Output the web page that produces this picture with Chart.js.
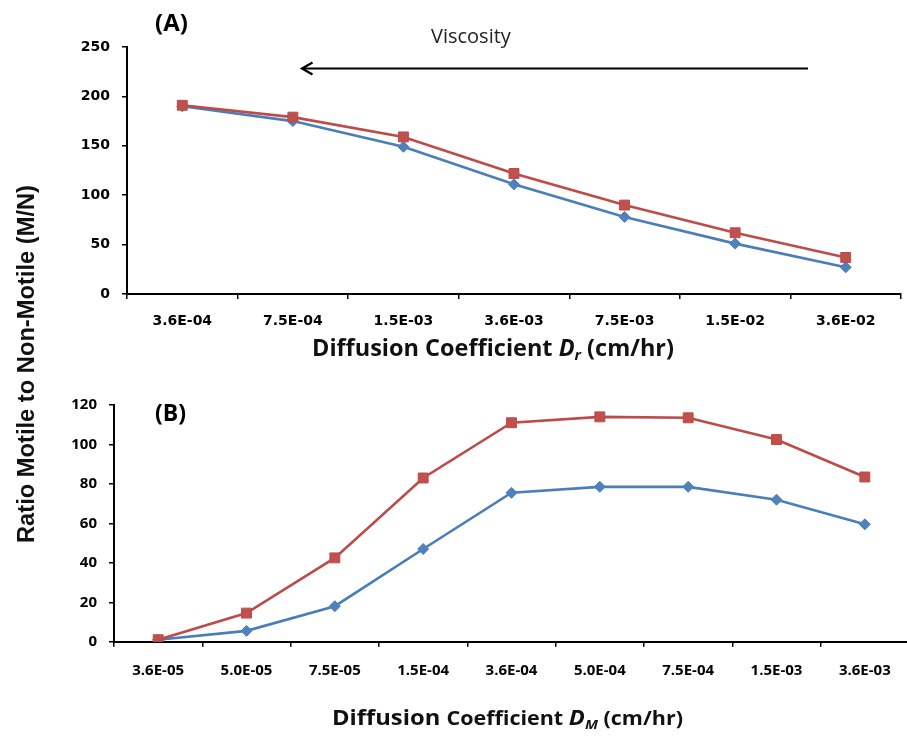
<!DOCTYPE html>
<html>
<head>
<meta charset="utf-8">
<script src="https://cdn.jsdelivr.net/npm/chart.js@4/dist/chart.umd.min.js"></script>
<style>
html,body{margin:0;padding:0;background:#fff;overflow:hidden;}
#wrap{position:relative;width:907px;height:736px;overflow:hidden;background:#fff;}
canvas{position:absolute;left:0;}
svg{position:absolute;left:0;top:0;}
</style>
</head>
<body>
<div id="wrap">
<canvas id="cA" width="909" height="345" style="top:0px"></canvas>
<canvas id="cB" width="917" height="320" style="top:380px"></canvas>
<svg width="907" height="736" xmlns="http://www.w3.org/2000/svg">
  <text x="155" y="31" font-family="Open Sans" font-weight="bold" font-size="24" fill="#000">(A)</text>
  <text x="155" y="421" font-family="Open Sans" font-weight="bold" font-size="23" fill="#000">(B)</text>
  <text x="431" y="43" font-family="Open Sans" font-size="20" fill="#222">Viscosity</text>
  <line x1="303" y1="68.5" x2="808" y2="68.5" stroke="#000" stroke-width="2.2"/>
  <polyline points="312.5,62.5 302,68.5 312.5,74.5" fill="none" stroke="#000" stroke-width="2.2"/>
  <text x="312" y="356" textLength="362" lengthAdjust="spacingAndGlyphs" font-family="Open Sans" font-weight="bold" font-size="23" fill="#111">Diffusion Coefficient <tspan font-style="italic">D</tspan><tspan font-style="italic" font-size="15" dy="4">r</tspan><tspan dy="-4"> (cm/hr)</tspan></text>
  <text x="332" y="725" textLength="351" lengthAdjust="spacingAndGlyphs" font-family="Open Sans" font-weight="bold" font-size="21" fill="#111">Diffusion <tspan font-size="19">Coefficient </tspan><tspan font-style="italic">D</tspan><tspan font-style="italic" font-size="13" dy="4">M</tspan><tspan font-size="19" dy="-4"> (cm/hr)</tspan></text>
  <text transform="translate(34,543) rotate(-90)" x="0" y="0" textLength="358" lengthAdjust="spacingAndGlyphs" font-family="Liberation Sans" font-weight="bold" font-size="23.5" fill="#111">Ratio Motile to Non-Motile (M/N)</text>
</svg>
</div>
<script>
// ---- Data ----
const categoriesA = ['3.6E-04','7.5E-04','1.5E-03','3.6E-03','7.5E-03','1.5E-02','3.6E-02'];
const blueA = [190, 175, 149, 111, 78, 51, 27];
const redA  = [191, 179, 159, 122, 90, 62, 37];

const categoriesB = ['3.6E-05','5.0E-05','7.5E-05','1.5E-04','3.6E-04','5.0E-04','7.5E-04','1.5E-03','3.6E-03'];
const blueB = [1, 5.5, 18, 47, 75.5, 78.5, 78.5, 72, 59.5];
const redB  = [1, 14.5, 42.5, 83, 111, 114, 113.5, 102.5, 83.5];

const yTicksA = {min: 0, max: 250, step: 50};
const yTicksB = {min: 0, max: 120, step: 20};

// ---- Styles ----
const BLUE_LINE = '#4A7EBB', BLUE_FILL = '#4F81BD';
const RED_LINE = '#BE4B48', RED_FILL = '#C0504D';

function series(values, isRed) {
  return {
    data: values,
    borderColor: isRed ? RED_LINE : BLUE_LINE,
    backgroundColor: isRed ? RED_FILL : BLUE_FILL,
    pointBackgroundColor: isRed ? RED_FILL : BLUE_FILL,
    pointBorderColor: isRed ? RED_LINE : BLUE_LINE,
    pointStyle: isRed ? 'rect' : 'rectRot',
    pointRadius: isRed ? 7 : 5.5,
    pointBorderWidth: 1,
    borderWidth: 2.6,
    tension: 0,
    fill: false
  };
}

function makeOptions(cfg) {
  return {
    responsive: false,
    animation: false,
    devicePixelRatio: 1,
    layout: {padding: {top: cfg.top, left: 0, right: 0, bottom: 0}},
    plugins: {legend: {display: false}, tooltip: {enabled: false}},
    scales: {
      x: {
        type: 'category',
        offset: true,
        grid: {display: true, drawOnChartArea: false, drawTicks: true, tickLength: 5, color: '#000', lineWidth: 1.5, offset: true},
        border: {display: true, color: '#000', width: 2},
        ticks: {font: cfg.xFont, color: '#000', padding: cfg.xPad, maxRotation: 0, autoSkip: false},
        afterFit: (s) => { s.height = cfg.xHeight; }
      },
      y: {
        min: cfg.yt.min, max: cfg.yt.max,
        grid: {display: true, drawOnChartArea: false, drawTicks: true, tickLength: 5, color: '#000', lineWidth: 1.5},
        border: {display: true, color: '#000', width: 2},
        ticks: {stepSize: cfg.yt.step, font: cfg.yFont, color: '#000', padding: 12},
        afterFit: (s) => { s.width = cfg.yWidth; }
      }
    }
  };
}

new Chart(document.getElementById('cA'), {
  type: 'line',
  data: {labels: categoriesA, datasets: [series(redA, true), series(blueA, false)]},
  options: makeOptions({
    top: 47, yt: yTicksA, yWidth: 127, xHeight: 51, xPad: 14,
    xFont: {family: 'DejaVu Sans', weight: 'bold', size: 14},
    yFont: {family: 'DejaVu Sans', weight: 'bold', size: 14}
  })
});

new Chart(document.getElementById('cB'), {
  type: 'line',
  data: {labels: categoriesB, datasets: [series(redB, true), series(blueB, false)]},
  options: makeOptions({
    top: 25, yt: yTicksB, yWidth: 114, xHeight: 58.3, xPad: 15,
    xFont: {family: 'Open Sans', weight: 'bold', size: 15},
    yFont: {family: 'Open Sans', weight: 'bold', size: 15}
  })
});
</script>
</body>
</html>
